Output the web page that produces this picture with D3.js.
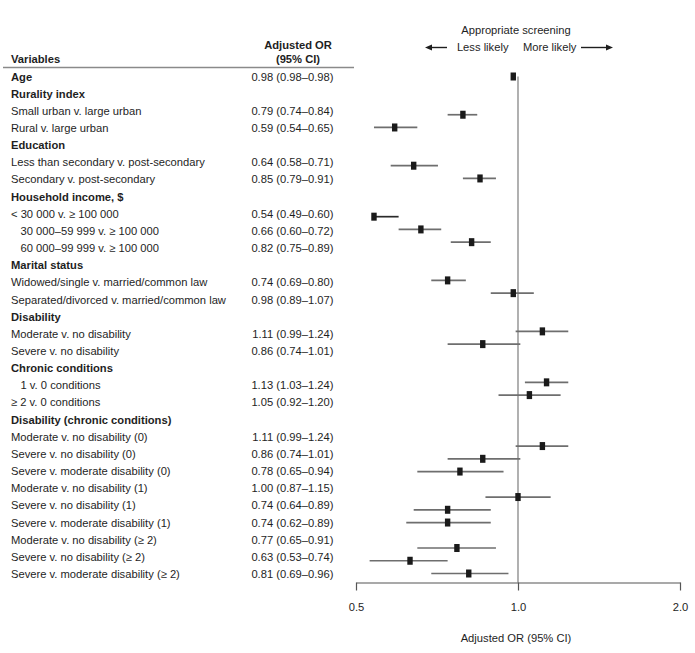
<!DOCTYPE html>
<html><head><meta charset="utf-8">
<script src="https://cdn.jsdelivr.net/npm/d3@7"></script>
<style>
html,body{margin:0;padding:0;background:#fff;}
svg{display:block;font-family:"Liberation Sans",Arial,Helvetica,sans-serif;}
</style></head>
<body><svg id="c" width="695" height="653"></svg>
<script>
// ---- data ----
const labels = [
  "Age",
  "Rurality index",
  "Small urban v. large urban",
  "Rural v. large urban",
  "Education",
  "Less than secondary v. post-secondary",
  "Secondary v. post-secondary",
  "Household income, $",
  "< 30 000 v. \u2265 100 000",
  "30 000\u201359 999 v. \u2265 100 000",
  "60 000\u201399 999 v. \u2265 100 000",
  "Marital status",
  "Widowed/single v. married/common law",
  "Separated/divorced v. married/common law",
  "Disability",
  "Moderate v. no disability",
  "Severe v. no disability",
  "Chronic conditions",
  "1 v. 0 conditions",
  "\u2265 2 v. 0 conditions",
  "Disability (chronic conditions)",
  "Moderate v. no disability (0)",
  "Severe v. no disability (0)",
  "Severe v. moderate disability (0)",
  "Moderate v. no disability (1)",
  "Severe v. no disability (1)",
  "Severe v. moderate disability (1)",
  "Moderate v. no disability (\u2265 2)",
  "Severe v. no disability (\u2265 2)",
  "Severe v. moderate disability (\u2265 2)"
];
const isHeading = [true,true,false,false,true,false,false,true,false,false,false,true,false,false,true,false,false,true,false,false,true,false,false,false,false,false,false,false,false,false];
const isIndented = [false,false,false,false,false,false,false,false,false,true,true,false,false,false,false,false,false,false,true,false,false,false,false,false,false,false,false,false,false,false];
const oddsRatio = [0.98,null,0.79,0.59,null,0.64,0.85,null,0.54,0.66,0.82,null,0.74,0.98,null,1.11,0.86,null,1.13,1.05,null,1.11,0.86,0.78,1.00,0.74,0.74,0.77,0.63,0.81];
const ciLow     = [0.98,null,0.74,0.54,null,0.58,0.79,null,0.49,0.60,0.75,null,0.69,0.89,null,0.99,0.74,null,1.03,0.92,null,0.99,0.74,0.65,0.87,0.64,0.62,0.65,0.53,0.69];
const ciHigh    = [0.98,null,0.84,0.65,null,0.71,0.91,null,0.60,0.72,0.89,null,0.80,1.07,null,1.24,1.01,null,1.24,1.20,null,1.24,1.01,0.94,1.15,0.89,0.89,0.91,0.74,0.96];
const axisTicks = [0.5, 1.0, 2.0];
const axisDomain = [0.5, 2.0];

// ---- build rows ----
const fmt = d3.format(".2f");
let currentGroup = null;
const rows = labels.map((lab, i) => {
  if (isHeading[i] && oddsRatio[i] == null) currentGroup = lab;
  if (oddsRatio[i] != null && isHeading[i]) currentGroup = lab;
  const m = lab.match(/\(([^)]*)\)$/);
  const sub = (currentGroup === "Disability (chronic conditions)" && m) ? m[1] : "";
  return {i, label: lab, bold: isHeading[i], indent: isIndented[i], or: oddsRatio[i], lo: ciLow[i], hi: ciHigh[i], group: currentGroup, sub};
});

// plot slots: blank slots between sections
let slot = -1, prev = null;
const est = rows.filter(r => r.or != null);
est.forEach(r => {
  let gap = 0;
  if (prev) {
    if (r.group !== prev.group) gap = (r.group === "Disability (chronic conditions)") ? 3 : 2;
    else if (r.sub !== prev.sub) gap = 1;
  }
  slot += 1 + gap;
  r.slot = slot;
  prev = r;
});
const nSlots = slot;

// ---- layout ----
const svg = d3.select("#c");
const textColor = "#1e1e1e";
const fs = 11.2;

const yTable = d3.scaleLinear().domain([0, labels.length - 1]).range([76.5, 574]);
const yPlot = d3.scaleLinear().domain([0, nSlots]).range([76.5, 573.5]);
const x = d3.scaleLog().domain(axisDomain).range([356, 680]);
const axisY = 582.5;

// table header
svg.append("text").attr("x", 11).attr("y", 62.5).attr("font-size", fs).attr("font-weight", "bold")
  .attr("fill", textColor).text("Variables");
svg.append("text").attr("x", 298).attr("y", 49).attr("font-size", fs).attr("font-weight", "bold")
  .attr("text-anchor", "middle").attr("fill", textColor).text("Adjusted OR");
svg.append("text").attr("x", 298).attr("y", 62.5).attr("font-size", fs).attr("font-weight", "bold")
  .attr("text-anchor", "middle").attr("fill", textColor).text("(95% CI)");
svg.append("line").attr("x1", 3).attr("x2", 354).attr("y1", 67.5).attr("y2", 67.5)
  .attr("stroke", "#8a8a8a").attr("stroke-width", 1.5);

// table rows
const tr = svg.append("g").selectAll("g").data(rows).join("g")
  .attr("transform", d => `translate(0,${yTable(d.i)})`);
tr.append("text")
  .attr("x", d => d.indent ? 20.5 : 11)
  .attr("dy", "0.36em")
  .attr("font-size", fs)
  .attr("font-weight", d => d.bold ? "bold" : "normal")
  .attr("fill", textColor)
  .text(d => d.label);
tr.filter(d => d.or != null).append("text")
  .attr("x", 333.5).attr("dy", "0.36em").attr("text-anchor", "end")
  .attr("font-size", fs).attr("fill", textColor)
  .text(d => `${fmt(d.or)} (${fmt(d.lo)}\u2013${fmt(d.hi)})`);

// top annotation
svg.append("text").attr("x", 516).attr("y", 34).attr("font-size", fs).attr("text-anchor", "middle")
  .attr("fill", textColor).text("Appropriate screening");
svg.append("text").attr("x", 508.5).attr("y", 51).attr("font-size", fs).attr("text-anchor", "end")
  .attr("fill", textColor).text("Less likely");
svg.append("text").attr("x", 523).attr("y", 51).attr("font-size", fs).attr("text-anchor", "start")
  .attr("fill", textColor).text("More likely");
const arr = svg.append("g").attr("stroke", textColor).attr("fill", textColor);
arr.append("line").attr("x1", 429).attr("x2", 447).attr("y1", 47.5).attr("y2", 47.5).attr("stroke-width", 1.4);
arr.append("path").attr("d", "M425,47.5 L432,44.5 L432,50.5 Z").attr("stroke", "none");
arr.append("line").attr("x1", 581).attr("x2", 609).attr("y1", 47.5).attr("y2", 47.5).attr("stroke-width", 1.4);
arr.append("path").attr("d", "M613,47.5 L606,44.5 L606,50.5 Z").attr("stroke", "none");

// reference line at OR = 1
svg.append("line").attr("x1", x(1)).attr("x2", x(1))
  .attr("y1", yPlot(0)).attr("y2", axisY)
  .attr("stroke", "#707070").attr("stroke-width", 1.1);

// CIs
const plot = svg.append("g");
plot.selectAll("line.ci").data(est.filter(d => d.hi > d.lo)).join("line")
  .attr("class", "ci")
  .attr("x1", d => d.lo < axisDomain[0] ? x(d.or) : x(d.lo))
  .attr("x2", d => x(Math.min(d.hi, axisDomain[1])))
  .attr("y1", d => yPlot(d.slot)).attr("y2", d => yPlot(d.slot))
  .attr("stroke", d => d.lo < axisDomain[0] ? "#2a2a2a" : "#6e6e6e")
  .attr("stroke-width", 1.7);
// point estimates
plot.selectAll("rect.pt").data(est).join("rect")
  .attr("class", "pt")
  .attr("x", d => x(d.or) - 2.7).attr("y", d => yPlot(d.slot) - 4)
  .attr("width", 5.4).attr("height", 8)
  .attr("fill", "#1a1a1a");

// x axis
const ax = svg.append("g").attr("transform", `translate(0,${axisY})`)
  .call(d3.axisBottom(x).tickValues(axisTicks).tickFormat(d3.format(".1f")).tickSize(8).tickSizeOuter(0).tickPadding(13));
ax.select(".domain").attr("stroke", "#555").attr("stroke-width", 1.2);
ax.selectAll(".tick line").attr("stroke", "#555").attr("stroke-width", 1.2);
ax.selectAll(".tick text").attr("font-size", fs).attr("fill", textColor)
  .attr("font-family", "Liberation Sans, Arial, sans-serif");

svg.append("text").attr("x", 516).attr("y", 641.5).attr("font-size", fs).attr("text-anchor", "middle")
  .attr("fill", textColor).text("Adjusted OR (95% CI)");
</script></body></html>
